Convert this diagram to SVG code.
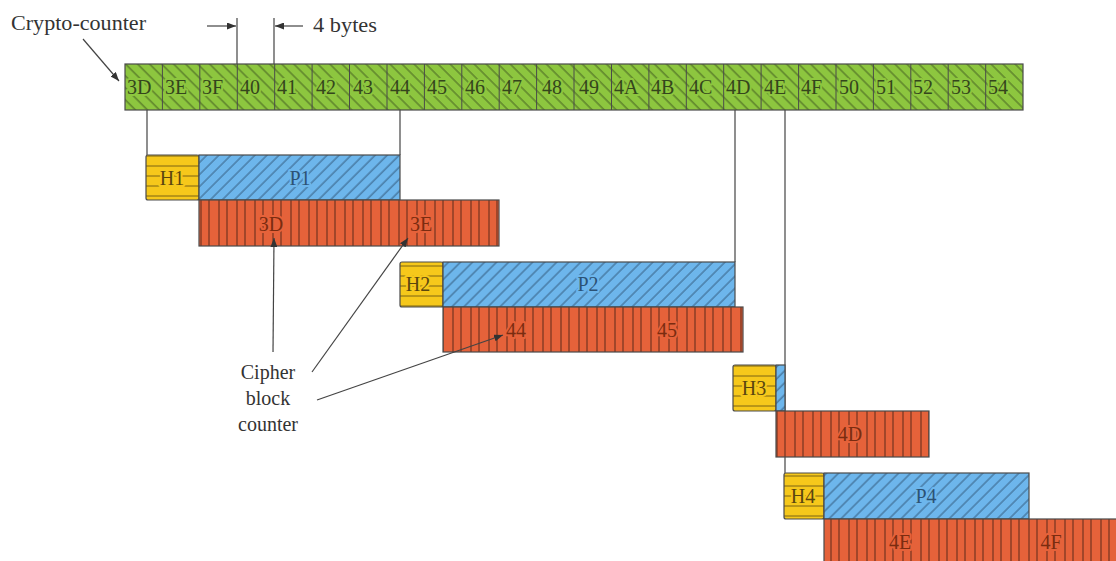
<svg xmlns="http://www.w3.org/2000/svg" width="1116" height="561" viewBox="0 0 1116 561">
<style>
.txt{font-family:"Liberation Serif","Times New Roman",serif;font-size:20px;fill:#333}
.box{stroke:#4a4a4a;stroke-width:1.2}
.conn{stroke:#444;stroke-width:1.2;fill:none}
.lg{font-family:"Liberation Serif",serif;font-size:20px;fill:#34451c;stroke:#8dc63f;stroke-width:4;paint-order:stroke;stroke-linejoin:round}
.lr{font-family:"Liberation Serif",serif;font-size:20px;fill:#7a2c10;stroke:#e5623a;stroke-width:4;paint-order:stroke;stroke-linejoin:round;text-anchor:middle}
.lb{font-family:"Liberation Serif",serif;font-size:20px;fill:#2c5274;stroke:#6db6ec;stroke-width:4;paint-order:stroke;stroke-linejoin:round;text-anchor:middle}
.ly{font-family:"Liberation Serif",serif;font-size:20px;fill:#5a4610;stroke:#f6c81b;stroke-width:4;paint-order:stroke;stroke-linejoin:round;text-anchor:middle}
</style>
<defs>
<pattern id="pg" width="8.5" height="8.5" patternUnits="userSpaceOnUse" patternTransform="rotate(-45)">
<rect width="8.5" height="8.5" fill="#8dc63f"/><line x1="1" y1="0" x2="1" y2="8.5" stroke="#2a3a14" stroke-width="0.9" opacity="0.8"/>
</pattern>
<pattern id="pb" width="8.5" height="8.5" patternUnits="userSpaceOnUse" patternTransform="rotate(45)">
<rect width="8.5" height="8.5" fill="#6db6ec"/><line x1="1" y1="0" x2="1" y2="8.5" stroke="#1e3a55" stroke-width="0.9" opacity="0.8"/>
</pattern>
<pattern id="pr" width="18" height="18" patternUnits="userSpaceOnUse">
<rect width="18" height="18" fill="#e5623a"/><line x1="3" y1="0" x2="3" y2="18" stroke="#3a1a10" stroke-width="1" opacity="0.8"/><line x1="11" y1="0" x2="11" y2="18" stroke="#3a1a10" stroke-width="1" opacity="0.8"/>
</pattern>
<pattern id="py" width="10" height="10" patternUnits="userSpaceOnUse" y="1">
<rect width="10" height="10" fill="#f6c81b"/><line x1="0" y1="5" x2="10" y2="5" stroke="#4a3a10" stroke-width="0.9" opacity="0.8"/>
</pattern>
<marker id="ah" markerWidth="9" markerHeight="7" refX="9" refY="3.5" orient="auto" markerUnits="userSpaceOnUse">
<path d="M0,0 L9,3.5 L0,7 z" fill="#333"/>
</marker>
</defs>

<g id="connectors">
<line class="conn" x1="147" y1="110" x2="147" y2="155"/>
<line class="conn" x1="400" y1="110" x2="400" y2="155"/>
<line class="conn" x1="735" y1="110" x2="735" y2="262"/>
<line class="conn" x1="785" y1="110" x2="785" y2="473"/>
<line class="conn" x1="237" y1="18" x2="237" y2="64"/>
<line class="conn" x1="274" y1="18" x2="274" y2="64"/>
<line class="conn" x1="207" y1="26" x2="236" y2="26" marker-end="url(#ah)"/>
<line class="conn" x1="303" y1="26" x2="275" y2="26" marker-end="url(#ah)"/>
<line class="conn" x1="83" y1="39" x2="119" y2="81" marker-end="url(#ah)"/>
</g>

<g id="crypto-counter">
<rect class="box" x="125" y="64" width="898" height="46" fill="url(#pg)"/>
<g stroke="#4a4a4a" stroke-width="1">
<line x1="162.4" y1="64" x2="162.4" y2="110"/><line x1="199.8" y1="64" x2="199.8" y2="110"/><line x1="237.3" y1="64" x2="237.3" y2="110"/><line x1="274.7" y1="64" x2="274.7" y2="110"/><line x1="312.1" y1="64" x2="312.1" y2="110"/><line x1="349.5" y1="64" x2="349.5" y2="110"/><line x1="387" y1="64" x2="387" y2="110"/><line x1="424.4" y1="64" x2="424.4" y2="110"/><line x1="461.8" y1="64" x2="461.8" y2="110"/><line x1="499.2" y1="64" x2="499.2" y2="110"/><line x1="536.6" y1="64" x2="536.6" y2="110"/><line x1="574" y1="64" x2="574" y2="110"/><line x1="611.5" y1="64" x2="611.5" y2="110"/><line x1="648.9" y1="64" x2="648.9" y2="110"/><line x1="686.3" y1="64" x2="686.3" y2="110"/><line x1="723.7" y1="64" x2="723.7" y2="110"/><line x1="761.1" y1="64" x2="761.1" y2="110"/><line x1="798.6" y1="64" x2="798.6" y2="110"/><line x1="836" y1="64" x2="836" y2="110"/><line x1="873.4" y1="64" x2="873.4" y2="110"/><line x1="910.8" y1="64" x2="910.8" y2="110"/><line x1="948.2" y1="64" x2="948.2" y2="110"/><line x1="985.7" y1="64" x2="985.7" y2="110"/>
</g>
<g class="lg">
<text x="127" y="94">3D</text><text x="165" y="94">3E</text><text x="202" y="94">3F</text><text x="240" y="94">40</text><text x="277" y="94">41</text><text x="316" y="94">42</text><text x="353" y="94">43</text><text x="390" y="94">44</text><text x="427" y="94">45</text><text x="465" y="94">46</text><text x="502" y="94">47</text><text x="542" y="94">48</text><text x="579" y="94">49</text><text x="614" y="94">4A</text><text x="651" y="94">4B</text><text x="689" y="94">4C</text><text x="726" y="94">4D</text><text x="764" y="94">4E</text><text x="801" y="94">4F</text><text x="839" y="94">50</text><text x="876" y="94">51</text><text x="913" y="94">52</text><text x="951" y="94">53</text><text x="988" y="94">54</text>
</g>
</g>

<g id="packet1">
<rect class="box" x="146" y="155" width="53" height="45" rx="2" fill="url(#py)"/>
<rect class="box" x="199" y="155" width="201" height="45" fill="url(#pb)"/>
<rect class="box" x="199" y="200" width="300" height="46" fill="url(#pr)"/>
<text class="ly" x="172" y="185">H1</text>
<text class="lb" x="300" y="185">P1</text>
<text class="lr" x="271" y="231">3D</text>
<text class="lr" x="421" y="231">3E</text>
</g>

<g id="packet2">
<rect class="box" x="400" y="262" width="43" height="45" rx="2" fill="url(#py)"/>
<rect class="box" x="443" y="262" width="292" height="45" fill="url(#pb)"/>
<rect class="box" x="443" y="307" width="300" height="45" fill="url(#pr)"/>
<text class="ly" x="418" y="291">H2</text>
<text class="lb" x="588" y="291">P2</text>
<text class="lr" x="516" y="337">44</text>
<text class="lr" x="667" y="337">45</text>
</g>

<g id="packet3">
<rect class="box" x="733" y="365" width="43" height="46" rx="2" fill="url(#py)"/>
<rect class="box" x="776" y="365" width="9" height="46" fill="url(#pb)"/>
<rect class="box" x="776" y="411" width="153" height="46" fill="url(#pr)"/>
<text class="ly" x="754" y="395">H3</text>
<text class="lr" x="850" y="441">4D</text>
</g>

<g id="packet4">
<rect class="box" x="784" y="473" width="40" height="46" rx="2" fill="url(#py)"/>
<rect class="box" x="824" y="473" width="205" height="46" fill="url(#pb)"/>
<rect class="box" x="824" y="519" width="300" height="46" fill="url(#pr)"/>
<text class="ly" x="803" y="503">H4</text>
<text class="lb" x="926" y="503">P4</text>
<text class="lr" x="900" y="549">4E</text>
<text class="lr" x="1051" y="549">4F</text>
</g>

<g id="cipher-arrows">
<line class="conn" x1="273" y1="352" x2="274" y2="238" marker-end="url(#ah)"/>
<line class="conn" x1="312" y1="372" x2="408" y2="238" marker-end="url(#ah)"/>
<line class="conn" x1="317" y1="400" x2="503" y2="335" marker-end="url(#ah)"/>
</g>

<g id="labels">
<text class="txt" x="11" y="30" textLength="135" lengthAdjust="spacingAndGlyphs">Crypto-counter</text>
<text class="txt" x="313" y="32" textLength="64" lengthAdjust="spacingAndGlyphs">4 bytes</text>
<text class="txt" x="268" y="379" text-anchor="middle">Cipher</text>
<text class="txt" x="268" y="405" text-anchor="middle">block</text>
<text class="txt" x="268" y="431" text-anchor="middle">counter</text>
</g>
</svg>
